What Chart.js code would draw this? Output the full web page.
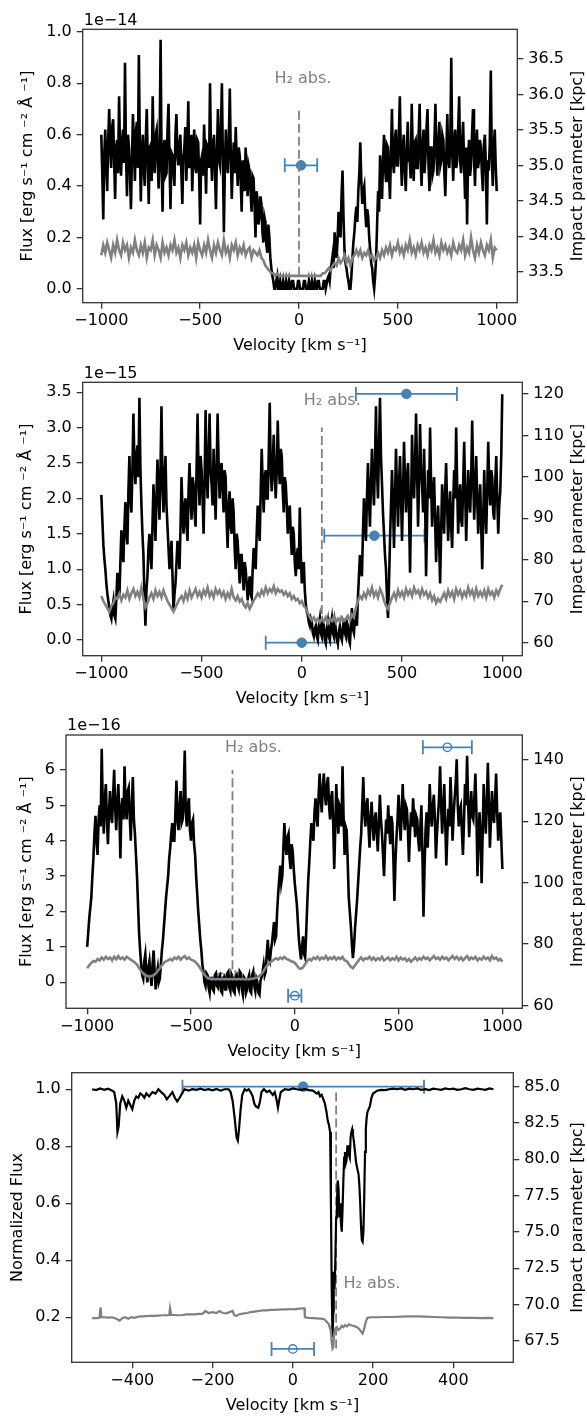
<!DOCTYPE html>
<html>
<head>
<meta charset="utf-8">
<script src="https://cdn.jsdelivr.net/npm/chart.js@4.4.1/dist/chart.umd.min.js"></script>
<style>
  html, body { margin: 0; padding: 0; background: #fff; }
  #wrap { position: relative; width: 587px; height: 1417px; overflow: hidden; }
  canvas { position: absolute; left: 0; }
</style>
</head>
<body>
<div id="wrap">
  <canvas id="c1" width="587" height="370" style="top:0px"></canvas>
  <canvas id="c2" width="587" height="370" style="top:355px"></canvas>
  <canvas id="c3" width="587" height="370" style="top:705px"></canvas>
  <canvas id="c4" width="587" height="367" style="top:1050px"></canvas>
</div>
<script>
// panels 1-3: flux sampled every 5 km/s from -1000 (one row = 50 km/s),
// error spectra every 10 km/s (one row = 100 km/s)

// ---- panel 1 (flux in 1e-14)
const flux1 = [
  0.60, 0.45, 0.27, 0.52, 0.62, 0.48, 0.38, 0.58, 0.70, 0.55,
  0.47, 0.63, 0.66, 0.50, 0.35, 0.55, 0.58, 0.45, 0.75, 0.53,
  0.44, 0.57, 0.62, 0.49, 0.88, 0.52, 0.36, 0.60, 0.55, 0.45,
  0.31, 0.50, 0.68, 0.56, 0.42, 0.61, 0.65, 0.47, 0.91, 0.55,
  0.34, 0.52, 0.60, 0.46, 0.40, 0.58, 0.70, 0.50, 0.33, 0.55,
  0.56, 0.42, 0.75, 0.52, 0.45, 0.60, 0.62, 0.50, 0.39, 0.55,
  0.97, 0.48, 0.30, 0.55, 0.58, 0.44, 0.45, 0.62, 0.72, 0.50,
  0.31, 0.53, 0.52, 0.46, 0.40, 0.60, 0.68, 0.52, 0.48, 0.56,
  0.60, 0.45, 0.33, 0.51, 0.55, 0.63, 0.42, 0.55, 0.73, 0.47,
  0.50, 0.60, 0.38, 0.52, 0.62, 0.48, 0.45, 0.58, 0.57, 0.43,
  0.25, 0.50, 0.52, 0.44, 0.64, 0.50, 0.37, 0.56, 0.55, 0.47,
  0.80, 0.52, 0.42, 0.58, 0.60, 0.46, 0.31, 0.53, 0.70, 0.50,
  0.48, 0.62, 0.80, 0.50, 0.22, 0.47, 0.62, 0.50, 0.45, 0.58,
  0.78, 0.52, 0.35, 0.48, 0.57, 0.45, 0.63, 0.50, 0.40, 0.55,
  0.52, 0.42, 0.30, 0.50, 0.47, 0.38, 0.55, 0.44, 0.36, 0.48,
  0.46, 0.38, 0.30, 0.44, 0.43, 0.33, 0.20, 0.38, 0.35, 0.25,
  0.28, 0.36, 0.33, 0.22, 0.18, 0.28, 0.26, 0.17, 0.14, 0.25,
  0.20, 0.12, 0.08, 0.05, 0.03, 0.00, 0.00, 0.03, 0.05, 0.00,
  0.00, 0.03, 0.00, 0.00, 0.03, 0.00, 0.00, 0.03, 0.00, 0.00,
  0.03, 0.00, 0.00, 0.03, 0.03, 0.00, 0.00, 0.00, 0.00, 0.03,
  0.03, 0.00, 0.00, 0.00, 0.00, 0.03, 0.03, 0.00, 0.00, 0.00,
  0.03, 0.00, 0.00, 0.03, 0.00, 0.00, 0.03, 0.00, 0.00, 0.03,
  0.03, 0.00, 0.00, 0.00, 0.00, 0.03, 0.03, 0.00, 0.02, 0.04,
  0.05, 0.03, 0.08, 0.10, 0.13, 0.08, 0.22, 0.16, 0.12, 0.19,
  0.30, 0.24, 0.20, 0.36, 0.46, 0.28, 0.15, 0.10, 0.08, 0.05,
  0.03, 0.00, 0.00, 0.05, 0.12, 0.18, 0.22, 0.28, 0.32, 0.26,
  0.38, 0.45, 0.57, 0.42, 0.33, 0.38, 0.40, 0.30, 0.24, 0.31,
  0.28, 0.20, 0.15, 0.10, 0.08, 0.03, 0.00, 0.05, 0.12, 0.25,
  0.38, 0.30, 0.52, 0.44, 0.35, 0.50, 0.60, 0.47, 0.42, 0.56,
  0.55, 0.45, 0.35, 0.52, 0.70, 0.50, 0.45, 0.58, 0.62, 0.48,
  0.48, 0.60, 0.75, 0.52, 0.40, 0.55, 0.60, 0.46, 0.38, 0.53,
  0.65, 0.50, 0.50, 0.43, 0.72, 0.55, 0.42, 0.57, 0.58, 0.47,
  0.47, 0.60, 0.72, 0.50, 0.40, 0.56, 0.62, 0.45, 0.52, 0.63,
  0.70, 0.48, 0.38, 0.55, 0.55, 0.44, 0.46, 0.58, 0.72, 0.52,
  0.44, 0.57, 0.65, 0.48, 0.50, 0.60, 0.58, 0.45, 0.36, 0.52,
  0.68, 0.50, 0.47, 0.56, 0.90, 0.53, 0.42, 0.58, 0.62, 0.47,
  0.50, 0.62, 0.75, 0.50, 0.45, 0.57, 0.65, 0.48, 0.35, 0.55,
  0.25, 0.50, 0.58, 0.44, 0.48, 0.60, 0.70, 0.52, 0.40, 0.55,
  0.62, 0.47, 0.50, 0.58, 0.55, 0.45, 0.38, 0.56, 0.60, 0.48,
  0.25, 0.50, 0.46, 0.57, 0.85, 0.52, 0.40, 0.55, 0.62, 0.47,
  0.38
];
const err1 = [
  0.13, 0.17, 0.14, 0.18, 0.15, 0.12, 0.17, 0.14, 0.19, 0.15,
  0.13, 0.18, 0.15, 0.17, 0.12, 0.16, 0.14, 0.19, 0.15, 0.13,
  0.17, 0.14, 0.18, 0.12, 0.16, 0.15, 0.19, 0.13, 0.17, 0.15,
  0.12, 0.18, 0.14, 0.16, 0.13, 0.17, 0.15, 0.19, 0.14, 0.16,
  0.12, 0.17, 0.15, 0.18, 0.13, 0.16, 0.14, 0.17, 0.12, 0.18,
  0.15, 0.13, 0.17, 0.14, 0.19, 0.15, 0.12, 0.17, 0.14, 0.18,
  0.15, 0.13, 0.19, 0.14, 0.16, 0.12, 0.17, 0.15, 0.18, 0.13,
  0.16, 0.14, 0.17, 0.13, 0.15, 0.16, 0.12, 0.15, 0.14, 0.13,
  0.15, 0.12, 0.11, 0.09, 0.08, 0.07, 0.06, 0.06, 0.05, 0.06,
  0.05, 0.05, 0.05, 0.05, 0.05, 0.05, 0.05, 0.05, 0.05, 0.05,
  0.05, 0.05, 0.05, 0.05, 0.05, 0.05, 0.05, 0.05, 0.05, 0.05,
  0.05, 0.05, 0.06, 0.06, 0.07, 0.08, 0.07, 0.09, 0.10, 0.09,
  0.12, 0.10, 0.11, 0.13, 0.10, 0.12, 0.09, 0.12, 0.13, 0.15,
  0.13, 0.15, 0.12, 0.14, 0.13, 0.15, 0.12, 0.13, 0.11, 0.12,
  0.14, 0.12, 0.15, 0.13, 0.16, 0.14, 0.17, 0.13, 0.16, 0.15,
  0.18, 0.14, 0.16, 0.13, 0.17, 0.15, 0.19, 0.14, 0.16, 0.13,
  0.17, 0.15, 0.18, 0.14, 0.16, 0.13, 0.17, 0.15, 0.19, 0.14,
  0.16, 0.13, 0.18, 0.15, 0.17, 0.14, 0.16, 0.13, 0.18, 0.15,
  0.14, 0.17, 0.15, 0.19, 0.13, 0.16, 0.14, 0.20, 0.15, 0.12,
  0.17, 0.14, 0.18, 0.15, 0.13, 0.17, 0.15, 0.19, 0.12, 0.16,
  0.15
];
const impact1 = [{ v: 10, b: 35.0, verr: 82, open: false }];

// ---- panel 2 (flux in 1e-15)
const flux2 = [
  2.05, 1.70, 1.35, 1.15, 1.00, 0.80, 0.65, 0.55, 0.45, 0.35,
  0.30, 0.45, 0.55, 0.35, 0.30, 0.60, 0.95, 0.70, 0.60, 1.10,
  1.55, 1.30, 1.10, 1.60, 1.95, 1.50, 1.35, 2.10, 2.60, 2.00,
  1.80, 2.40, 3.20, 2.50, 2.20, 2.60, 2.75, 2.30, 3.42, 2.40,
  1.90, 1.50, 1.20, 0.60, 0.20, 0.70, 0.90, 1.30, 1.50, 1.20,
  1.00, 1.60, 2.20, 1.80, 1.40, 2.00, 2.55, 2.10, 1.70, 2.40,
  3.30, 2.20, 1.80, 2.30, 2.60, 1.90, 1.60, 1.30, 1.00, 1.20,
  1.40, 0.90, 0.42, 0.65, 0.80, 1.10, 1.40, 1.20, 1.00, 1.60,
  2.30, 1.80, 1.50, 1.90, 2.00, 1.60, 1.40, 2.10, 2.50, 2.00,
  1.70, 2.30, 2.20, 1.80, 1.60, 2.40, 3.20, 2.30, 1.90, 2.60,
  2.40, 2.00, 1.50, 2.20, 3.25, 2.40, 2.00, 2.60, 3.20, 2.40,
  2.20, 1.90, 2.70, 2.20, 1.70, 2.40, 3.20, 2.50, 2.00, 2.40,
  2.50, 2.10, 1.80, 2.40, 2.30, 1.70, 1.30, 1.90, 2.10, 1.60,
  1.50, 2.00, 1.80, 1.30, 1.00, 1.50, 1.40, 1.10, 0.80, 1.20,
  1.20, 0.90, 0.70, 1.10, 1.00, 0.80, 0.56, 0.75, 0.90, 0.65,
  0.60, 1.00, 1.30, 1.10, 1.00, 1.50, 1.90, 1.60, 1.40, 2.10,
  2.70, 2.20, 1.80, 2.30, 2.40, 2.00, 2.00, 2.60, 3.35, 2.40,
  2.10, 2.50, 2.90, 2.30, 2.00, 2.40, 3.10, 2.50, 2.20, 2.70,
  2.60, 2.10, 1.80, 2.30, 2.20, 1.90, 1.50, 1.80, 1.90, 1.50,
  1.20, 1.60, 1.50, 1.10, 0.90, 1.20, 1.30, 1.00, 1.87, 1.20,
  0.80, 1.00, 1.10, 0.70, 0.50, 0.40, 0.35, 0.25, 0.20, 0.30,
  0.25, 0.10, 0.05, 0.15, 0.20, 0.05, 0.00, 0.20, 0.30, 0.10,
  0.05, 0.25, 0.20, 0.00, -0.05, 0.15, 0.25, 0.05, 0.00, 0.20,
  0.30, 0.10, 0.05, 0.25, 0.15, 0.00, -0.05, 0.10, 0.20, 0.05,
  0.00, 0.15, 0.30, 0.10, 0.05, 0.25, 0.20, 0.00, -0.05, 0.20,
  0.45, 0.15, 0.10, 0.30, 0.35, 0.20, 0.60, 0.90, 1.20, 1.00,
  0.90, 1.50, 2.00, 1.70, 1.40, 2.00, 2.50, 2.00, 1.60, 2.20,
  2.70, 2.20, 1.90, 2.50, 3.30, 2.40, 2.00, 2.70, 3.42, 2.60,
  2.20, 1.80, 1.50, 1.20, 1.00, 0.60, 0.31, 0.80, 1.40, 1.90,
  2.40, 1.90, 1.30, 2.00, 2.70, 2.10, 1.60, 2.20, 2.60, 2.00,
  1.40, 2.10, 2.80, 2.20, 1.80, 2.30, 2.50, 1.80, 0.95, 1.90,
  2.90, 2.30, 2.00, 2.50, 3.20, 2.40, 1.60, 2.20, 3.05, 2.40,
  2.20, 1.80, 2.70, 2.00, 0.90, 1.70, 2.40, 2.00, 3.00, 2.20,
  1.60, 2.10, 2.30, 1.70, 1.10, 1.60, 1.90, 1.40, 0.80, 1.50,
  2.20, 1.80, 1.50, 2.10, 2.50, 1.90, 1.40, 1.80, 2.10, 1.60,
  1.30, 1.90, 2.40, 2.00, 3.00, 2.20, 1.50, 1.90, 2.20, 1.70,
  1.60, 2.20, 2.80, 2.10, 1.40, 1.90, 2.40, 2.00, 1.80, 2.30,
  3.10, 2.30, 1.70, 2.10, 2.60, 2.00, 1.50, 1.90, 2.20, 1.60,
  1.00, 1.70, 2.40, 1.90, 1.50, 2.10, 2.80, 2.20, 1.90, 2.40,
  2.30, 1.80, 1.70, 2.20, 2.60, 2.00, 1.50, 1.90, 2.10, 2.60,
  3.47
];
const err2 = [
  0.62, 0.55, 0.50, 0.45, 0.40, 0.48, 0.52, 0.60, 0.58, 0.65,
  0.56, 0.64, 0.60, 0.70, 0.58, 0.66, 0.72, 0.62, 0.68, 0.60,
  0.74, 0.58, 0.46, 0.52, 0.60, 0.66, 0.58, 0.70, 0.62, 0.68,
  0.60, 0.70, 0.62, 0.55, 0.50, 0.45, 0.40, 0.46, 0.52, 0.58,
  0.62, 0.55, 0.66, 0.58, 0.70, 0.60, 0.66, 0.72, 0.62, 0.68,
  0.60, 0.70, 0.64, 0.74, 0.62, 0.68, 0.60, 0.72, 0.65, 0.70,
  0.62, 0.68, 0.58, 0.66, 0.60, 0.72, 0.60, 0.56, 0.62, 0.54,
  0.58, 0.50, 0.46, 0.52, 0.44, 0.50, 0.56, 0.60, 0.66, 0.62,
  0.70, 0.64, 0.74, 0.66, 0.72, 0.68, 0.76, 0.66, 0.72, 0.68,
  0.70, 0.64, 0.68, 0.62, 0.66, 0.58, 0.62, 0.56, 0.58, 0.52,
  0.55, 0.48, 0.45, 0.38, 0.32, 0.28, 0.32, 0.26, 0.30, 0.25,
  0.30, 0.26, 0.32, 0.24, 0.30, 0.27, 0.33, 0.25, 0.30, 0.26,
  0.32, 0.27, 0.30, 0.34, 0.28, 0.36, 0.32, 0.45, 0.55, 0.62,
  0.58, 0.66, 0.60, 0.70, 0.64, 0.74, 0.62, 0.68, 0.60, 0.72,
  0.66, 0.56, 0.48, 0.44, 0.52, 0.60, 0.66, 0.58, 0.70, 0.62,
  0.68, 0.60, 0.72, 0.64, 0.70, 0.62, 0.74, 0.66, 0.70, 0.62,
  0.72, 0.64, 0.68, 0.60, 0.66, 0.56, 0.62, 0.52, 0.58, 0.54,
  0.60, 0.66, 0.58, 0.70, 0.62, 0.68, 0.58, 0.72, 0.64, 0.70,
  0.60, 0.68, 0.62, 0.74, 0.64, 0.70, 0.60, 0.72, 0.62, 0.68,
  0.62, 0.70, 0.60, 0.72, 0.64, 0.68, 0.60, 0.70, 0.64, 0.72,
  0.78
];
const impact2 = [
  { v: 522, b: 120.0, verr: 252, open: false },
  { v: 362, b: 85.8, verr: 250, open: false },
  { v: 0, b: 60.0, verr: 180, open: false }
];

// ---- panel 3 (flux in 1e-16)
const flux3 = [
  1.00, 1.40, 1.80, 2.10, 2.40, 3.00, 3.50, 4.20, 4.70, 4.00,
  3.60, 4.60, 5.00, 4.40, 6.60, 5.00, 4.20, 5.20, 5.60, 4.60,
  3.90, 4.80, 5.40, 4.70, 4.50, 5.30, 6.00, 4.90, 4.30, 5.10,
  5.60, 4.80, 3.50, 4.90, 5.20, 4.60, 6.10, 5.00, 4.60, 5.40,
  5.50, 4.70, 4.00, 5.00, 5.80, 4.60, 4.20, 3.60, 3.00, 2.20,
  1.40, 0.90, 0.50, 0.20, 0.10, 0.60, 0.80, 0.30, 0.00, 0.40,
  0.60, 0.20, -0.10, 0.50, 0.90, 0.30, -0.20, 0.20, 0.40, 0.00,
  0.10, 0.50, 0.90, 1.20, 1.60, 2.00, 2.40, 2.70, 3.00, 3.50,
  3.80, 4.20, 4.50, 4.00, 4.00, 4.80, 5.70, 4.60, 4.30, 5.00,
  5.40, 4.50, 4.60, 5.30, 6.55, 4.80, 4.40, 5.00, 5.20, 4.30,
  4.00, 4.50, 4.60, 3.90, 3.60, 3.00, 2.50, 2.00, 1.60, 1.20,
  0.90, 0.50, 0.30, 0.00, -0.10, 0.25, 0.20, -0.15, -0.30, 0.10,
  0.10, -0.20, -0.25, 0.20, 0.25, -0.10, -0.15, 0.15, 0.20, -0.25,
  -0.30, 0.10, 0.15, -0.20, -0.20, 0.25, 0.30, -0.15, -0.25, 0.20,
  0.10, -0.25, -0.30, 0.15, 0.20, -0.10, -0.20, 0.30, 0.25, -0.20,
  -0.35, 0.15, 0.10, -0.30, -0.20, 0.10, 0.20, -0.25, -0.30, 0.20,
  0.30, -0.10, -0.25, 0.10, 0.00, -0.30, -0.35, 0.05, 0.15, 0.30,
  0.50, 0.20, 0.30, 0.80, 1.20, 0.70, 0.60, 0.90, 1.10, 1.40,
  1.70, 1.20, 1.30, 2.00, 2.50, 2.90, 3.30, 2.80, 3.00, 3.80,
  4.50, 3.90, 3.60, 4.10, 4.20, 3.50, 3.20, 3.90, 3.70, 3.20,
  2.80, 2.50, 2.20, 1.70, 1.20, 0.90, 0.65, 1.00, 1.30, 0.80,
  0.70, 1.40, 2.20, 2.90, 3.40, 4.00, 4.50, 4.20, 4.00, 4.80,
  5.20, 4.70, 4.40, 5.30, 5.90, 5.20, 4.80, 5.50, 5.90, 5.30,
  5.00, 5.60, 5.80, 5.00, 4.60, 5.20, 5.40, 4.50, 3.20, 4.30,
  5.60, 4.80, 4.20, 5.00, 4.90, 4.40, 6.10, 4.70, 3.60, 4.40,
  4.30, 3.40, 2.40, 2.00, 1.60, 1.10, 0.68, 1.00, 1.50, 1.90,
  2.30, 2.80, 3.30, 3.80, 4.20, 5.00, 5.80, 4.80, 4.40, 5.00,
  5.20, 4.40, 3.80, 4.60, 5.10, 4.50, 4.00, 4.60, 4.80, 4.20,
  3.70, 4.50, 5.30, 4.60, 4.20, 3.60, 3.00, 3.90, 4.60, 4.20,
  5.00, 4.40, 3.90, 4.70, 4.50, 3.50, 2.30, 3.40, 4.10, 4.60,
  5.30, 4.60, 4.00, 4.80, 5.60, 4.70, 4.30, 5.00, 4.90, 4.30,
  3.40, 4.20, 4.80, 4.40, 5.20, 4.60, 4.10, 4.70, 4.60, 4.00,
  3.70, 4.40, 5.00, 3.60, 1.85, 3.20, 4.30, 4.80, 3.80, 4.50,
  5.60, 4.80, 4.40, 5.00, 5.30, 4.60, 3.50, 4.20, 4.70, 5.20,
  6.10, 5.00, 4.20, 4.90, 5.60, 4.50, 3.30, 4.20, 4.90, 4.40,
  5.80, 5.00, 4.00, 4.70, 5.20, 5.60, 6.30, 5.00, 4.40, 4.90,
  5.00, 4.30, 3.60, 4.50, 5.60, 5.00, 6.40, 5.10, 4.10, 4.80,
  5.40, 4.70, 4.60, 5.20, 5.90, 4.80, 3.00, 4.00, 4.80, 4.20,
  2.80, 4.20, 5.60, 4.80, 4.20, 5.00, 6.20, 5.10, 3.80, 4.60,
  5.40, 4.70, 4.50, 5.20, 5.90, 4.80, 4.00, 4.60, 4.80, 4.00,
  3.20
];
const err3 = [
  0.40, 0.48, 0.55, 0.60, 0.58, 0.66, 0.62, 0.70, 0.64, 0.72,
  0.66, 0.70, 0.62, 0.72, 0.65, 0.74, 0.66, 0.70, 0.64, 0.72,
  0.68, 0.64, 0.60, 0.56, 0.50, 0.40, 0.32, 0.25, 0.20, 0.18,
  0.16, 0.18, 0.20, 0.25, 0.32, 0.40, 0.48, 0.55, 0.60, 0.62,
  0.66, 0.62, 0.70, 0.66, 0.72, 0.64, 0.70, 0.74, 0.66, 0.70,
  0.64, 0.62, 0.58, 0.52, 0.44, 0.35, 0.25, 0.18, 0.12, 0.10,
  0.08, 0.10, 0.08, 0.10, 0.08, 0.10, 0.08, 0.10, 0.08, 0.10,
  0.08, 0.10, 0.08, 0.10, 0.08, 0.10, 0.08, 0.10, 0.08, 0.10,
  0.10, 0.12, 0.14, 0.18, 0.24, 0.32, 0.42, 0.50, 0.56, 0.60,
  0.64, 0.68, 0.64, 0.70, 0.66, 0.72, 0.66, 0.64, 0.60, 0.58,
  0.55, 0.48, 0.40, 0.38, 0.42, 0.52, 0.60, 0.66, 0.62, 0.70,
  0.66, 0.72, 0.64, 0.70, 0.66, 0.74, 0.64, 0.70, 0.66, 0.72,
  0.64, 0.70, 0.66, 0.72, 0.62, 0.60, 0.52, 0.44, 0.40, 0.48,
  0.56, 0.64, 0.70, 0.62, 0.68, 0.66, 0.72, 0.64, 0.70, 0.62,
  0.68, 0.64, 0.72, 0.62, 0.66, 0.70, 0.62, 0.68, 0.64, 0.72,
  0.62, 0.70, 0.64, 0.68, 0.60, 0.66, 0.58, 0.64, 0.70, 0.62,
  0.68, 0.64, 0.72, 0.66, 0.70, 0.62, 0.68, 0.74, 0.66, 0.70,
  0.64, 0.72, 0.66, 0.70, 0.62, 0.68, 0.74, 0.66, 0.72, 0.64,
  0.70, 0.62, 0.68, 0.74, 0.64, 0.70, 0.66, 0.72, 0.62, 0.68,
  0.64, 0.72, 0.66, 0.70, 0.62, 0.74, 0.66, 0.70, 0.62, 0.66,
  0.58
];
const impact3 = [
  { v: 735, b: 144.1, verr: 118, open: true },
  { v: -358, b: 69.2, verr: 72, open: true },
  { v: 0, b: 63.2, verr: 32, open: true }
];

// ---- panel 4 (normalized), [velocity, flux]
const spec4 = [
  [-500, 1.000], [-490, 0.997], [-480, 1.003], [-470, 0.998], [-460, 1.002], [-450, 0.995],
  [-445, 0.990], [-440, 0.950], [-437, 0.850], [-434, 0.870], [-430, 0.950], [-425, 0.975],
  [-420, 0.960], [-415, 0.935], [-410, 0.960], [-405, 0.945], [-400, 0.930], [-395, 0.960],
  [-390, 0.975], [-385, 0.970], [-380, 0.985], [-375, 0.980], [-370, 0.970], [-365, 0.985],
  [-358, 0.975], [-350, 0.990], [-342, 0.985], [-335, 1.000], [-328, 0.990], [-320, 0.980],
  [-314, 0.965], [-308, 0.975], [-300, 0.990], [-294, 0.970], [-288, 0.957], [-282, 0.970],
  [-276, 0.985], [-270, 1.000], [-260, 0.995], [-250, 1.000], [-240, 0.998], [-230, 1.002],
  [-220, 0.997], [-210, 1.000], [-200, 0.996], [-190, 1.001], [-180, 0.995], [-170, 1.000],
  [-160, 1.000], [-155, 0.990], [-150, 0.960], [-145, 0.900], [-140, 0.830], [-137, 0.820],
  [-134, 0.860], [-130, 0.930], [-126, 0.980], [-120, 1.000], [-115, 0.995], [-110, 1.000],
  [-105, 0.990], [-100, 0.975], [-96, 0.950], [-92, 0.940], [-86, 0.935], [-82, 0.955],
  [-78, 0.990], [-72, 1.000], [-65, 0.990], [-58, 0.995], [-50, 0.980], [-45, 0.990],
  [-40, 0.960], [-37, 0.935], [-34, 0.960], [-30, 0.990], [-25, 0.995], [-20, 1.000],
  [-10, 0.998], [0, 1.003], [10, 1.000], [20, 0.998], [30, 1.000], [40, 0.997],
  [50, 0.995], [55, 0.990], [60, 0.985], [64, 0.990], [68, 0.975], [72, 0.980],
  [76, 0.965], [80, 0.950], [84, 0.920], [87, 0.890], [90, 0.875], [93, 0.850],
  [95, 0.600], [97, 0.300], [99, 0.130], [101, 0.220], [102, 0.360], [104, 0.300],
  [106, 0.400], [108, 0.550], [110, 0.600], [112, 0.680], [114, 0.650], [116, 0.550],
  [118, 0.600], [120, 0.530], [122, 0.500], [124, 0.580], [126, 0.680], [128, 0.760],
  [130, 0.780], [132, 0.740], [134, 0.750], [136, 0.800], [138, 0.800], [140, 0.770],
  [142, 0.760], [144, 0.830], [146, 0.850], [148, 0.860], [150, 0.840], [152, 0.820],
  [155, 0.780], [158, 0.740], [161, 0.720], [164, 0.700], [166, 0.660], [168, 0.600],
  [170, 0.520], [172, 0.470], [174, 0.465], [176, 0.500], [178, 0.620], [180, 0.780],
  [182, 0.860], [184, 0.900], [186, 0.920], [189, 0.930], [192, 0.940], [196, 0.970],
  [200, 0.985], [205, 0.990], [210, 0.995], [220, 0.998], [230, 0.997], [240, 1.000],
  [250, 1.002], [260, 1.000], [270, 1.003], [280, 0.998], [290, 1.002], [300, 1.000],
  [310, 1.003], [320, 0.998], [330, 1.000], [340, 0.997], [350, 1.002], [360, 1.000],
  [370, 0.998], [380, 1.003], [390, 1.000], [400, 1.002], [410, 0.998], [420, 1.000],
  [430, 1.004], [440, 1.000], [450, 0.998], [460, 1.002], [470, 1.000], [480, 0.998],
  [490, 1.003], [500, 1.000]
];
const err4 = [
  [-500, 0.197], [-490, 0.197], [-482, 0.198], [-479, 0.235], [-477, 0.200], [-470, 0.200],
  [-460, 0.199], [-450, 0.200], [-440, 0.195], [-432, 0.188], [-425, 0.197], [-418, 0.200],
  [-410, 0.195], [-402, 0.200], [-395, 0.198], [-385, 0.202], [-375, 0.203], [-365, 0.204],
  [-355, 0.205], [-345, 0.205], [-335, 0.206], [-325, 0.207], [-315, 0.207], [-308, 0.208],
  [-306, 0.232], [-303, 0.208], [-295, 0.208], [-285, 0.207], [-275, 0.208], [-265, 0.210],
  [-255, 0.210], [-245, 0.210], [-235, 0.212], [-225, 0.212], [-218, 0.222], [-210, 0.215],
  [-200, 0.218], [-190, 0.215], [-183, 0.222], [-175, 0.215], [-165, 0.214], [-158, 0.218],
  [-150, 0.222], [-146, 0.207], [-140, 0.205], [-135, 0.210], [-125, 0.213], [-115, 0.215],
  [-105, 0.218], [-95, 0.220], [-85, 0.222], [-75, 0.224], [-65, 0.224], [-55, 0.226],
  [-45, 0.226], [-35, 0.227], [-25, 0.228], [-15, 0.228], [-5, 0.229], [5, 0.228],
  [15, 0.230], [25, 0.231], [29, 0.231], [30, 0.200], [40, 0.198], [50, 0.197],
  [60, 0.196], [70, 0.195], [78, 0.193], [84, 0.185], [90, 0.175], [95, 0.150],
  [97, 0.110], [99, 0.090], [101, 0.095], [103, 0.140], [106, 0.160], [110, 0.165],
  [114, 0.155], [118, 0.160], [122, 0.170], [126, 0.165], [130, 0.172], [135, 0.168],
  [140, 0.175], [145, 0.172], [150, 0.170], [155, 0.168], [160, 0.165], [165, 0.160],
  [170, 0.150], [174, 0.143], [178, 0.160], [182, 0.185], [186, 0.198], [195, 0.200],
  [210, 0.200], [230, 0.201], [250, 0.201], [270, 0.202], [290, 0.203], [310, 0.203],
  [330, 0.202], [350, 0.201], [370, 0.200], [390, 0.199], [410, 0.199], [430, 0.198],
  [450, 0.198], [470, 0.197], [490, 0.198], [500, 0.197]
];
const impact4 = [
  { v: 26, b: 85.0, verr: 301, open: false },
  { v: 0, b: 66.95, verr: 53, open: true }
];

// tick labels
const velTicks = [-1000, -500, 0, 500, 1000];
const velTicks4 = [-400, -200, 0, 200, 400];
const fluxTicks1 = [0, 0.2, 0.4, 0.6, 0.8, 1.0];
const fluxTicks2 = [0, 0.5, 1.0, 1.5, 2.0, 2.5, 3.0, 3.5];
const fluxTicks3 = [0, 1, 2, 3, 4, 5, 6];
const fluxTicks4 = [0.2, 0.4, 0.6, 0.8, 1.0];
const bTicks1 = [33.5, 34.0, 34.5, 35.0, 35.5, 36.0, 36.5];
const bTicks2 = [60, 70, 80, 90, 100, 110, 120];
const bTicks3 = [60, 80, 100, 120, 140];
const bTicks4 = [67.5, 70.0, 72.5, 75.0, 77.5, 80.0, 82.5, 85.0];

const FONT = '"DejaVu Sans", sans-serif';
const BLUE = '#4682b4';
const GREY = '#808080';
const FLUX_LABEL = 'Flux [erg s\u207B\u00B9 cm \u207B\u00B2 \u00C5 \u207B\u00B9]';

const minus = (s) => s.replace('-', '\u2212');
const fmt = (d) => (v) => minus(Number(v).toFixed(d));

function grid(vals, start, step) {
  return vals.map((y, i) => ({ x: start + i * step, y: y }));
}

const decor = {
  id: 'decor',
  beforeDatasetDraw(chart, args, o) {
    if (args.index !== 3) return;
    const xs = chart.scales.x, ys = chart.scales.y2, ctx = chart.ctx;
    ctx.save();
    ctx.strokeStyle = BLUE;
    ctx.lineWidth = 1.8;
    o.points.forEach(p => {
      const y = ys.getPixelForValue(p.b);
      const x0 = xs.getPixelForValue(p.v - p.verr);
      const x1 = xs.getPixelForValue(p.v + p.verr);
      ctx.beginPath();
      ctx.moveTo(x0, y); ctx.lineTo(x1, y);
      ctx.moveTo(x0, y - 7); ctx.lineTo(x0, y + 7);
      ctx.moveTo(x1, y - 7); ctx.lineTo(x1, y + 7);
      ctx.stroke();
    });
    ctx.restore();
  },
  afterDraw(chart, args, o) {
    const { ctx, chartArea: a } = chart;
    const midY = (a.top + a.bottom) / 2;
    ctx.save();
    ctx.strokeStyle = '#333';
    ctx.lineWidth = 1.3;
    ctx.strokeRect(a.left, a.top, a.right - a.left, a.bottom - a.top);

    ctx.fillStyle = '#000';
    ctx.font = '16px ' + FONT;
    ctx.textAlign = 'center';
    ctx.textBaseline = 'alphabetic';
    ctx.fillText('Velocity [km s\u207B\u00B9]', (a.left + a.right) / 2, a.bottom + 47.5);

    if (o.offset) {
      ctx.textAlign = 'left';
      ctx.fillText(o.offset, a.left + 1, a.top - 4.8);
    }

    ctx.textAlign = 'center';
    ctx.textBaseline = 'middle';
    ctx.save();
    ctx.translate(o.ylabelX, midY);
    ctx.rotate(-Math.PI / 2);
    ctx.fillText(o.ylabel, 0, 0);
    ctx.restore();
    ctx.save();
    ctx.translate(578, midY);
    ctx.rotate(-Math.PI / 2);
    ctx.fillText('Impact parameter [kpc]', 0, 0);
    ctx.restore();

    ctx.fillStyle = GREY;
    ctx.textBaseline = 'alphabetic';
    ctx.fillText('H\u2082 abs.', chart.scales.x.getPixelForValue(o.h2[0]),
      chart.scales.y.getPixelForValue(o.h2[1]));
    ctx.restore();
  }
};

function axis(position, min, max, ticks, dec, fit) {
  return {
    type: 'linear',
    position: position,
    min: min,
    max: max,
    afterBuildTicks: (s) => { s.ticks = ticks.map(v => ({ value: v })); },
    afterFit: fit,
    border: { display: false },
    grid: { drawOnChartArea: false, drawTicks: true, tickLength: 6, color: '#333', lineWidth: 1.3 },
    ticks: {
      font: { family: FONT, size: 16 },
      color: '#000',
      padding: position === 'bottom' ? 3 : 5,
      maxRotation: 0,
      autoSkip: false,
      callback: fmt(dec)
    }
  };
}

function makePanel(p) {
  const canvas = document.getElementById(p.id);
  const H = canvas.height;
  const datasets = [
    { data: p.grey, borderColor: GREY, borderWidth: p.lw, showLine: true, pointRadius: 0, yAxisID: 'y' },
    { data: p.black, borderColor: '#000', borderWidth: p.lw, showLine: true, pointRadius: 0, yAxisID: 'y' },
    { data: [{ x: p.dash[0], y: p.dash[1] }, { x: p.dash[0], y: p.dash[2] }], borderColor: GREY,
      borderWidth: 1.8, borderDash: [9, 4], showLine: true, pointRadius: 0, yAxisID: 'y' },
    { data: p.points.map(q => ({ x: q.v, y: q.b })), yAxisID: 'y2', showLine: false,
      pointRadius: p.points.map(q => q.open ? 4.2 : 4.8),
      pointBackgroundColor: p.points.map(q => q.open ? 'rgba(0,0,0,0)' : BLUE),
      pointBorderColor: BLUE, pointBorderWidth: p.points.map(q => q.open ? 1.4 : 1) }
  ];
  return new Chart(canvas, {
    type: 'scatter',
    data: { datasets: datasets },
    plugins: [decor],
    options: {
      responsive: false,
      animation: false,
      devicePixelRatio: 1,
      events: [],
      layout: { padding: { top: p.T - p.top, left: 0, right: 0, bottom: 0 } },
      plugins: {
        legend: { display: false },
        tooltip: { enabled: false },
        decor: { points: p.points, offset: p.offset, ylabel: p.ylabel, ylabelX: p.ylabelX, h2: p.h2 }
      },
      scales: {
        x: axis('bottom', p.xr[0], p.xr[1], p.xt, 0, s => { s.height = H - (p.B - p.top); }),
        y: axis('left', p.yr[0], p.yr[1], p.yt, p.yd, s => { s.width = p.L; }),
        y2: axis('right', p.rr[0], p.rr[1], p.rt, p.rd, s => { s.width = 587 - p.R; })
      }
    }
  });
}

makePanel({
  id: 'c1', top: 0, L: 82.7, R: 517.3, T: 29.3, B: 302.7,
  xr: [-1094, 1104], yr: [-0.0545, 1.0105], rr: [33.063, 36.919],
  xt: velTicks, yt: fluxTicks1, yd: 1, rt: bTicks1, rd: 1,
  black: grid(flux1, -1000, 5), grey: grid(err1, -1000, 10), lw: 2.6,
  dash: [0, 0, 0.7], h2: [20, 0.80], points: impact1,
  offset: '1e\u221214', ylabel: FLUX_LABEL, ylabelX: 28
});
makePanel({
  id: 'c2', top: 355, L: 82.7, R: 522.3, T: 382.3, B: 655.7,
  xr: [-1093, 1100], yr: [-0.222, 3.64], rr: [56.86, 122.8],
  xt: velTicks, yt: fluxTicks2, yd: 1, rt: bTicks2, rd: 0,
  black: grid(flux2, -1000, 5), grey: grid(err2, -1000, 10), lw: 2.6,
  dash: [100, 0, 3.0], h2: [152, 3.32], points: impact2,
  offset: '1e\u221215', ylabel: FLUX_LABEL, ylabelX: 27
});
makePanel({
  id: 'c3', top: 705, L: 66, R: 522.3, T: 735, B: 1008.3,
  xr: [-1102, 1096], yr: [-0.734, 6.986], rr: [59.1, 148.1],
  xt: velTicks, yt: fluxTicks3, yd: 0, rt: bTicks3, rd: 0,
  black: grid(flux3, -1000, 5), grey: grid(err3, -1000, 10), lw: 2.6,
  dash: [-300, 0, 6.0], h2: [-199, 6.51], points: impact3,
  offset: '1e\u221216', ylabel: FLUX_LABEL, ylabelX: 27
});
makePanel({
  id: 'c4', top: 1050, L: 71.7, R: 513.3, T: 1072.7, B: 1362.3,
  xr: [-551, 549.5], yr: [0.042, 1.058], rr: [66.03, 85.96],
  xt: velTicks4, yt: fluxTicks4, yd: 1, rt: bTicks4, rd: 1,
  black: spec4.map(d => ({ x: d[0], y: d[1] })), grey: err4.map(d => ({ x: d[0], y: d[1] })), lw: 2.2,
  dash: [108, 0.09, 1.0], h2: [197, 0.302], points: impact4,
  offset: '', ylabel: 'Normalized Flux', ylabelX: 18
});
</script>
</body>
</html>
